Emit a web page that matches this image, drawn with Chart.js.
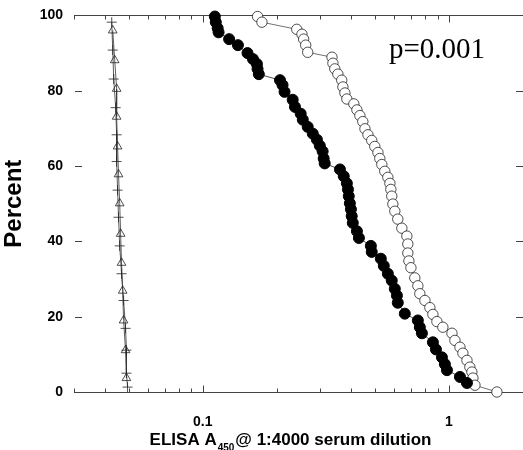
<!DOCTYPE html>
<html><head><meta charset="utf-8">
<script src="https://cdn.jsdelivr.net/npm/chart.js@4.4.0/dist/chart.umd.min.js"></script>
<style>html,body{margin:0;padding:0;background:#fff;}#wrap{width:523px;height:450px;}</style>
</head><body><div id="wrap"><canvas id="c" width="523" height="450"></canvas></div>
<script>
// Filled circles
const filledX = [0.112,0.113,0.115,0.116,0.128,0.139,0.152,0.160,0.166,0.167,0.169,0.206,0.211,0.215,0.232,0.237,0.250,0.255,0.267,0.280,0.291,0.299,0.307,0.310,0.313,0.361,0.374,0.385,0.389,0.392,0.396,0.400,0.403,0.407,0.423,0.431,0.482,0.486,0.529,0.544,0.565,0.586,0.603,0.615,0.620,0.662,0.748,0.762,0.777,0.861,0.886,0.937,0.963,0.982,1.109,1.184];
const filledY = [99.7,98.2,96.6,95.5,93.7,92.1,90.0,88.4,87.1,85.8,84.4,82.8,81.5,79.7,77.6,75.7,73.9,72.3,70.4,68.6,67.0,65.4,63.9,62.0,60.7,59.1,57.3,55.4,53.8,52.0,50.1,48.5,46.7,44.9,42.7,40.9,38.8,37.2,35.4,33.5,31.4,29.6,27.4,25.6,23.7,20.8,19.0,17.2,15.6,13.2,11.3,9.2,7.4,5.8,4.0,2.4];
// Open circles
const openX = [0.167,0.174,0.241,0.253,0.257,0.262,0.267,0.335,0.338,0.344,0.354,0.367,0.371,0.378,0.385,0.411,0.423,0.435,0.447,0.456,0.469,0.486,0.500,0.515,0.524,0.534,0.549,0.565,0.576,0.581,0.586,0.592,0.603,0.620,0.644,0.675,0.681,0.681,0.688,0.701,0.727,0.748,0.762,0.799,0.837,0.861,0.894,0.945,1.029,1.058,1.109,1.140,1.184,1.217,1.240,1.252,1.276,1.567];
const openY = [99.7,98.2,96.3,95.0,93.7,92.1,90.2,88.9,87.3,85.8,84.4,82.8,81.0,79.4,77.8,76.5,74.9,73.4,71.8,69.9,68.3,66.8,65.2,63.6,62.0,60.4,58.6,57.0,55.4,53.8,52.0,49.9,48.0,45.9,43.5,41.4,39.3,36.9,34.8,33.0,30.3,28.2,26.1,24.3,22.4,20.6,18.7,17.2,15.6,13.7,11.9,10.3,8.4,6.6,5.3,3.7,1.8,0];
// Open triangles
const triX = [0.0431,0.0439,0.0447,0.0447,0.0451,0.0455,0.0460,0.0464,0.0468,0.0473,0.0477,0.0486,0.0490];
const triY = [96.0,88.1,80.5,73.1,65.2,57.8,50.1,42.0,34.3,26.9,19.0,11.1,3.7];
// Crosses
const crossX = [0.0427,0.0431,0.0435,0.0443,0.0447,0.0447,0.0451,0.0455,0.0460,0.0468,0.0477,0.0486,0.0490,0.0490,0.0495];
const crossY = [98.2,90.8,83.1,75.5,68.3,61.2,53.6,46.4,38.8,31.4,24.3,16.9,11.1,5.0,1.3];

const xMin = 0.03, xMax = 2;
const xTickValues = [0.1, 1];
const xTickLabels = ['0.1', '1'];
const yTickValues = [0, 20, 40, 60, 80, 100];
const yTitle = 'Percent';
const xTitleMain = 'ELISA A';
const xTitleSub = '450';
const xTitleRest = '@ 1:4000 serum dilution';
const pText = 'p=0.001';

const pts = (xs, ys) => xs.map((x, i) => ({x, y: ys[i]}));

const axesPlugin = {
  id: 'axesDeco',
  beforeDatasetsDraw(chart) {
    const {ctx, chartArea: ca, scales: {x: xs, y: ys}} = chart;
    ctx.save();
    ctx.strokeStyle = '#444';
    ctx.lineWidth = 1;
    const line = (x1, y1, x2, y2) => { ctx.beginPath(); ctx.moveTo(x1, y1); ctx.lineTo(x2, y2); ctx.stroke(); };
    const top = Math.round(ca.top) + 0.5, bot = Math.round(ca.bottom) + 0.5;
    line(ca.left, top, ca.right, top);
    line(ca.left, bot, ca.right, bot);
    for (const d of [0.01, 0.1, 1]) {
      for (let m = 1; m <= 9; m++) {
        const v = m * d;
        if (v < xMin * 0.999 || v > xMax * 1.001) continue;
        const px = Math.round(xs.getPixelForValue(v)) + 0.5;
        const len = m === 1 ? 7 : 4;
        line(px, bot, px, bot - len);
        line(px, top, px, top + len);
      }
    }
    for (const v of yTickValues) {
      if (v <= 0 || v >= 100) continue;
      const py = Math.round(ys.getPixelForValue(v)) + 0.5;
      line(ca.left + 1, py, ca.left + 8, py);
      line(ca.right - 7, py, ca.right, py);
    }
    ctx.restore();
  },
  afterDraw(chart) {
    const {ctx, chartArea: ca} = chart;
    ctx.save();
    ctx.fillStyle = '#000';
    ctx.textBaseline = 'alphabetic';
    ctx.font = '29px "Liberation Serif", "Times New Roman", serif';
    ctx.fillText(pText, 389, 58);
    const big = 'bold 17px "Liberation Sans", Arial, sans-serif';
    const small = 'bold 10px "Liberation Sans", Arial, sans-serif';
    ctx.font = big; const w1 = ctx.measureText(xTitleMain).width; const w3 = ctx.measureText(xTitleRest).width;
    ctx.font = small; const w2 = ctx.measureText(xTitleSub).width;
    const total = w1 + w2 + 2 + w3;
    let x0 = (ca.left + ca.right) / 2 - 8 - total / 2;
    const base = 445;
    ctx.font = big; ctx.fillText(xTitleMain, x0, base);
    ctx.font = small; ctx.fillText(xTitleSub, x0 + w1 + 1, base + 6);
    ctx.font = big; ctx.fillText(xTitleRest, x0 + w1 + w2 + 2, base);
    ctx.restore();
  }
};

new Chart(document.getElementById('c'), {
  type: 'scatter',
  data: {
    datasets: [
      { data: pts(filledX, filledY), showLine: true, borderColor: '#222', borderWidth: 0.8,
        pointRadius: 5.5, pointBackgroundColor: '#000', pointBorderColor: '#000', pointBorderWidth: 1, clip: false },
      { data: pts(openX, openY), showLine: true, borderColor: '#333', borderWidth: 0.7,
        pointRadius: 5.2, pointBackgroundColor: '#fff', pointBorderColor: '#222', pointBorderWidth: 0.8, clip: false },
      { data: pts(triX, triY), showLine: true, borderColor: '#333', borderWidth: 0.8, pointStyle: 'triangle',
        pointRadius: 5, pointBackgroundColor: 'rgba(0,0,0,0)', pointBorderColor: '#222', pointBorderWidth: 0.8, clip: false },
      { data: pts(crossX, crossY), showLine: true, borderColor: '#333', borderWidth: 0.8, pointStyle: 'cross',
        pointRadius: 5, pointBorderColor: '#222', pointBorderWidth: 0.8, clip: false }
    ]
  },
  options: {
    responsive: false, animation: false, devicePixelRatio: 1,
    layout: { autoPadding: false, padding: { top: 0, right: 0, left: 0, bottom: 0 } },
    plugins: { legend: { display: false }, tooltip: { enabled: false } },
    scales: {
      x: {
        type: 'logarithmic', min: xMin, max: xMax,
        afterFit: s => { s.height = 58; },
        afterBuildTicks: s => { s.ticks = xTickValues.map(v => ({value: v, major: true})); },
        grid: { display: false }, border: { display: false },
        ticks: { autoSkip: false, maxRotation: 0, padding: 14, color: '#000',
          font: { family: '"Liberation Sans", Arial, sans-serif', size: 14, weight: 'bold' },
          callback: (v) => { const i = xTickValues.findIndex(t => Math.abs(t - v) < 1e-9); return i >= 0 ? xTickLabels[i] : ''; } }
      },
      y: {
        min: 0, max: 100,
        afterFit: s => { s.width = 74; },
        afterBuildTicks: s => { s.ticks = yTickValues.map(v => ({value: v})); },
        grid: { display: true, drawOnChartArea: false, drawTicks: true, tickLength: 4, color: 'rgba(0,0,0,0)' },
        border: { display: false },
        ticks: { padding: 7, color: '#000', font: { family: '"Liberation Sans", Arial, sans-serif', size: 14, weight: 'bold' } },
        title: { display: true, text: yTitle, color: '#000', padding: { top: 0, bottom: 0 },
          font: { family: '"Liberation Sans", Arial, sans-serif', size: 24, weight: 'bold' } }
      }
    }
  },
  plugins: [axesPlugin]
});
</script></body></html>
